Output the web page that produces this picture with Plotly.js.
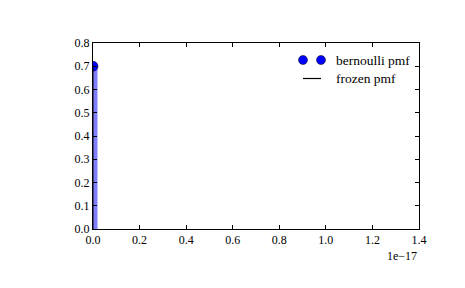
<!DOCTYPE html>
<html><head><meta charset="utf-8">
<script src="https://cdn.plot.ly/plotly-3.0.1.min.js"></script>
<style>html,body{margin:0;padding:0;background:#fff}</style>
</head><body><div id="plot" style="width:465px;height:288px"></div>
<script>
var xk = [0, 1];
var pmf = [0.7, 0.3];
var seriesNames = ['bernoulli pmf', 'frozen pmf'];
var xTickLabels = ['0.0','0.2','0.4','0.6','0.8','1.0','1.2','1.4'];
var yTickLabels = ['0.0','0.1','0.2','0.3','0.4','0.5','0.6','0.7','0.8'];
var xScale = 1e-17;

var M = {l: 93, r: 46, t: 43, b: 59}, W = 465, H = 288;
var pw = W - M.l - M.r, ph = H - M.t - M.b;
function fx(X){ return (X - M.l) / pw; }
function fy(Y){ return (H - M.b - Y) / ph; }

var vx = [], vy = [];
xk.forEach(function(x, i){ vx.push(x, x, null); vy.push(0, pmf[i], null); });

var traces = [
  {x: vx, y: vy, mode: 'lines', line: {color: 'rgb(128,128,255)', width: 9}, showlegend: false, hoverinfo: 'skip'},
  {x: xk, y: pmf, mode: 'markers', name: seriesNames[0], showlegend: false, marker: {color: 'blue', size: 10, line: {color: 'black', width: 0.5}}},
  {x: vx, y: vy, mode: 'lines', name: seriesNames[1], showlegend: false, line: {color: 'black', width: 1}}
];
var fam = 'Liberation Serif';
var font = {family: fam, size: 12, color: 'black'};
var legFont = {family: fam, size: 13.5, color: 'black'};

// legend (drawn by hand to match the two-marker key)
var shapes = [];
[303, 321].forEach(function(cx){
  shapes.push({type: 'circle', xref: 'paper', yref: 'paper', x0: fx(cx - 4.5), x1: fx(cx + 4.5), y0: fy(60 + 4.5), y1: fy(60 - 4.5), fillcolor: 'blue', line: {color: 'black', width: 0.5}});
});
shapes.push({type: 'line', xref: 'paper', yref: 'paper', x0: fx(303), x1: fx(321), y0: fy(78.5), y1: fy(78.5), line: {color: 'black', width: 1.2}});

var annotations = [
  {text: '1e\u221217', xref: 'paper', yref: 'paper', x: 1, y: 0, xanchor: 'right', yanchor: 'top', yshift: -18, showarrow: false, font: font},
  {text: seriesNames[0], xref: 'paper', yref: 'paper', x: fx(334), y: fy(60), xanchor: 'left', yanchor: 'middle', showarrow: false, font: legFont},
  {text: seriesNames[1], xref: 'paper', yref: 'paper', x: fx(334), y: fy(78), xanchor: 'left', yanchor: 'middle', showarrow: false, font: legFont}
];

var layout = {
  width: W, height: H,
  margin: M,
  paper_bgcolor: 'white', plot_bgcolor: 'white',
  font: font,
  showlegend: false,
  xaxis: {
    range: [0, 1.4 * xScale], tickmode: 'array',
    tickvals: xTickLabels.map(function(t){ return parseFloat(t) * xScale; }),
    ticktext: xTickLabels, tickfont: font,
    ticks: 'inside', ticklen: 4, tickcolor: 'black', showline: true, linecolor: 'black', linewidth: 1, mirror: 'ticks',
    showgrid: false, zeroline: false, fixedrange: true
  },
  yaxis: {
    range: [0, 0.8], tickmode: 'array',
    tickvals: yTickLabels.map(parseFloat), ticktext: yTickLabels, tickfont: font,
    ticks: 'inside', ticklen: 4, tickcolor: 'black', showline: true, linecolor: 'black', linewidth: 1, mirror: 'ticks',
    showgrid: false, zeroline: false, fixedrange: true
  },
  shapes: shapes,
  annotations: annotations
};
Plotly.newPlot('plot', traces, layout, {staticPlot: true});
</script></body></html>
